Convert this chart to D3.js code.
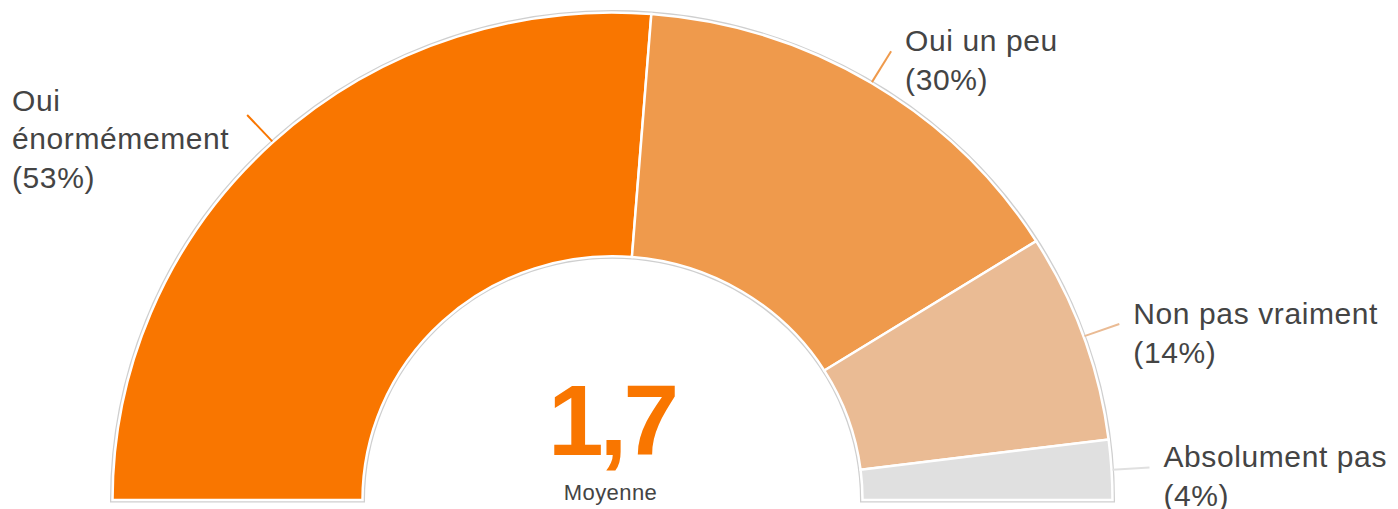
<!DOCTYPE html>
<html>
<head>
<meta charset="utf-8">
<script src="https://cdn.jsdelivr.net/npm/d3@7"></script>
<style>
  html, body { margin: 0; padding: 0; background: #fff; }
  svg { display: block; font-family: "Liberation Sans", Arial, sans-serif; }
</style>
</head>
<body>
<svg width="1398" height="509"></svg>
<script>
// data
var categories = ["Oui énormémement", "Oui un peu", "Non pas vraiment", "Absolument pas"];
var percents = [53, 30, 14, 4];
var colors = ["#F97600", "#EF9A4C", "#EABB94", "#E0E0E0"];
var labelLines = [["Oui", "énormémement", "(53%)"], ["Oui un peu", "(30%)"], ["Non pas vraiment", "(14%)"], ["Absolument pas", "(4%)"]];
var average = "1,7";
var averageLabel = "Moyenne";

document.addEventListener("DOMContentLoaded", function () {
  var cx = 612.5, cy = 500, ry = 0.975;
  var outerR = 500, innerR = 250, lineR = 538;

  var svg = d3.select("svg");

  var pie = d3.pie()
    .sort(null)
    .startAngle(-Math.PI / 2)
    .endAngle(Math.PI / 2)
    .value(function (d) { return d.value; });

  var data = categories.map(function (c, i) {
    return { name: c, value: percents[i], color: colors[i], lines: labelLines[i] };
  });
  var arcs = pie(data);

  var arc = d3.arc().innerRadius(innerR).outerRadius(outerR);

  var g = svg.append("g")
    .attr("transform", "translate(" + cx + "," + cy + ") scale(1," + ry + ")");

  // faint shadow outline of the whole half ring
  g.append("path")
    .attr("d", d3.arc().innerRadius(innerR).outerRadius(outerR)
      .startAngle(-Math.PI / 2).endAngle(Math.PI / 2)())
    .attr("fill", "#ddd")
    .attr("stroke", "#cfcfcf")
    .attr("stroke-width", 5)
    .attr("stroke-linejoin", "miter");

  g.selectAll("path.slice")
    .data(arcs)
    .enter()
    .append("path")
    .attr("class", "slice")
    .attr("d", arc)
    .attr("fill", function (d) { return d.data.color; })
    .attr("stroke", "#fff")
    .attr("stroke-width", 2.5)
    .attr("stroke-linejoin", "miter");

  function pos(a, r) {
    return [cx + r * Math.sin(a), cy - ry * r * Math.cos(a)];
  }

  arcs.forEach(function (d) {
    var mid = (d.startAngle + d.endAngle) / 2;
    var p0 = pos(mid, outerR + 1);
    var p1 = pos(mid, lineR);
    svg.append("line")
      .attr("x1", p0[0]).attr("y1", p0[1])
      .attr("x2", p1[0]).attr("y2", p1[1])
      .attr("stroke", d.data.color)
      .attr("stroke-width", 2);

    var left = p1[0] < cx;
    var tx = left ? 12 : p1[0] + 14;
    var ty = left ? p1[1] - 4 : p1[1];
    var t = svg.append("text")
      .attr("x", tx)
      .attr("y", ty)
      .attr("fill", "#444")
      .style("font-size", "30px")
      .style("letter-spacing", "0.6px");
    d.data.lines.forEach(function (ln, i) {
      t.append("tspan")
        .attr("x", tx)
        .attr("dy", i === 0 ? 0 : 38.5)
        .text(ln);
    });
  });

  svg.append("text")
    .attr("x", cx - 1)
    .attr("y", 455)
    .attr("text-anchor", "middle")
    .attr("fill", "#F97600")
    .style("font-size", "100px")
    .style("font-weight", "bold")
    .style("letter-spacing", "-4px")
    .text(average);

  svg.append("text")
    .attr("x", cx - 2)
    .attr("y", 500)
    .attr("text-anchor", "middle")
    .attr("fill", "#444")
    .style("font-size", "22px")
    .style("letter-spacing", "0.4px")
    .text(averageLabel);
});
</script>
</body>
</html>
